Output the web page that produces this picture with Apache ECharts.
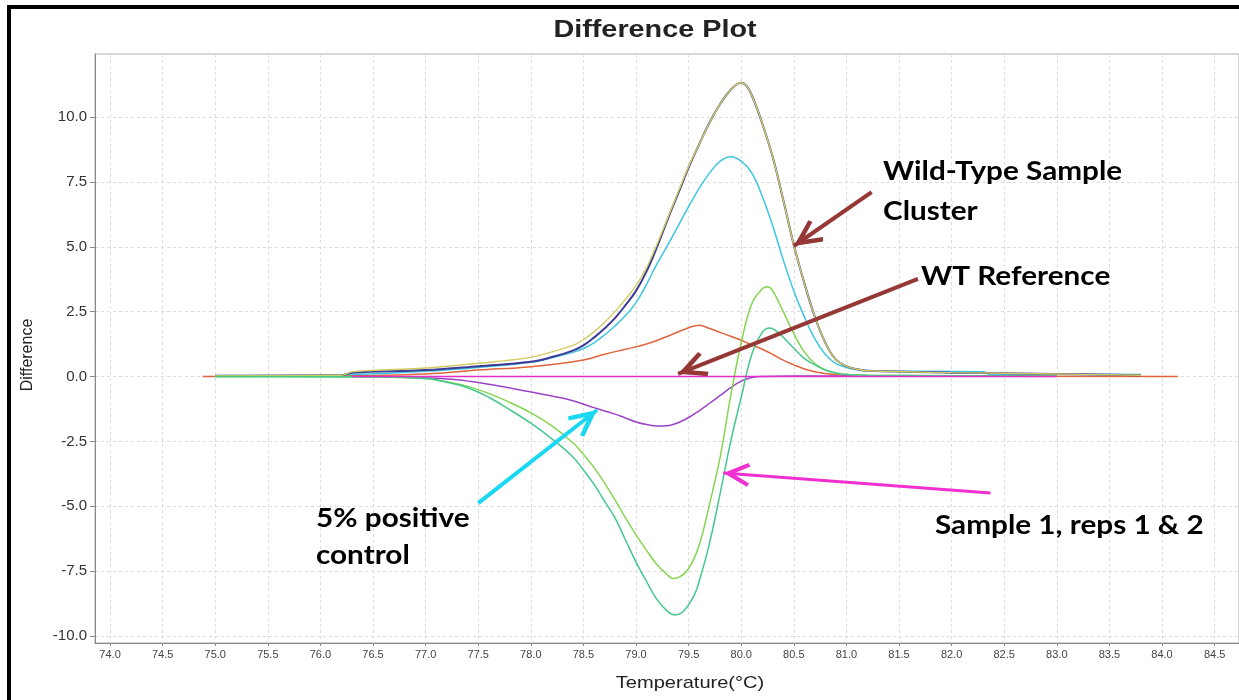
<!DOCTYPE html>
<html>
<head>
<meta charset="utf-8">
<script src="https://cdn.jsdelivr.net/npm/echarts@6/dist/echarts.min.js"></script>
<style>
html,body{margin:0;padding:0;background:#fff;}
#chart{width:1239px;height:700px;}
</style>
</head>
<body>
<div id="chart"></div>
<script>
// ---- tick labels ----
const xTicks = [74.0,74.5,75.0,75.5,76.0,76.5,77.0,77.5,78.0,78.5,79.0,79.5,80.0,80.5,81.0,81.5,82.0,82.5,83.0,83.5,84.0,84.5];
const yTicks = [-10.0,-7.5,-5.0,-2.5,0.0,2.5,5.0,7.5,10.0];

// ---- series data (temperature °C, difference) ----
const wtNavyX   = [75.0,76.2,76.3,77.0,77.5,78.0,78.2,78.4,78.5,78.6,78.7,78.8,78.9,79.0,79.1,79.2,79.3,79.4,79.5,79.6,79.7,79.8,79.9,80.0,80.05,80.1,80.2,80.3,80.4,80.5,80.6,80.7,80.8,80.9,81.0,81.1,81.2,82.0,83.0,83.8];
const wtNavyY   = [0.03,0.05,0.15,0.25,0.4,0.57,0.75,1.0,1.2,1.5,1.85,2.25,2.75,3.3,4.05,5.0,6.05,7.05,8.05,8.95,9.8,10.5,11.05,11.32,11.2,10.85,9.75,8.45,6.8,5.07,3.6,2.3,1.3,0.65,0.4,0.28,0.22,0.15,0.1,0.05];
const wtYellowX = [75.0,76.2,76.3,77.0,77.5,78.0,78.2,78.4,78.5,78.6,78.7,78.8,78.9,79.0,79.1,79.2,79.3,79.4,79.5,79.6,79.7,79.8,79.9,80.0,80.05,80.1,80.2,80.3,80.4,80.5,80.6,80.7,80.8,80.9,81.0,81.1,81.2,82.0,83.0,83.8];
const wtYellowY = [0.03,0.05,0.18,0.33,0.51,0.74,0.95,1.2,1.42,1.72,2.08,2.5,2.98,3.5,4.2,5.1,6.1,7.1,8.1,8.95,9.8,10.5,11.05,11.32,11.2,10.85,9.75,8.45,6.8,5.07,3.6,2.3,1.3,0.65,0.4,0.28,0.22,0.15,0.1,0.05];
const cyanX = [75.0,76.3,77.0,77.5,78.0,78.2,78.4,78.5,78.6,78.7,78.8,78.9,79.0,79.1,79.2,79.3,79.4,79.5,79.6,79.7,79.8,79.9,80.0,80.1,80.2,80.3,80.4,80.5,80.6,80.7,80.8,80.9,81.0,81.1,81.2,82.3,82.35,83.8];
const cyanY = [0.03,0.08,0.2,0.35,0.55,0.72,0.93,1.08,1.3,1.6,1.95,2.35,2.85,3.55,4.35,5.05,5.8,6.55,7.25,7.85,8.3,8.47,8.3,7.85,6.95,5.8,4.49,3.3,2.3,1.45,0.85,0.5,0.35,0.27,0.22,0.18,0.1,0.08];
const redX  = [74.88,76.0,77.0,77.5,78.0,78.5,78.7,78.9,79.1,79.3,79.5,79.6,79.7,79.8,79.9,80.0,80.1,80.2,80.3,80.4,80.5,80.6,80.7,80.8,80.9,81.1,81.4,84.15];
const redY  = [0.0,0.02,0.1,0.25,0.38,0.64,0.86,1.05,1.25,1.55,1.88,1.98,1.85,1.7,1.55,1.4,1.22,1.05,0.85,0.63,0.45,0.29,0.18,0.12,0.08,0.04,0.02,0.0];
const refX  = [76.3,83.0];
const refY  = [0,0];
const ctrlX = [76.35,77.0,77.3,77.6,77.9,78.2,78.4,78.6,78.8,78.9,79.0,79.1,79.2,79.3,79.4,79.5,79.6,79.7,79.8,79.9,80.0,80.1,80.2,80.5,83.0];
const ctrlY = [0,-0.05,-0.12,-0.3,-0.52,-0.75,-0.93,-1.2,-1.45,-1.6,-1.75,-1.85,-1.91,-1.9,-1.78,-1.58,-1.32,-1.03,-0.73,-0.43,-0.18,-0.04,0.0,0.02,0.02];
const rep1X = [75.0,76.5,77.0,77.2,77.4,77.6,77.8,78.0,78.2,78.4,78.5,78.6,78.7,78.8,78.9,79.0,79.1,79.2,79.3,79.35,79.4,79.5,79.6,79.7,79.8,79.9,80.0,80.1,80.2,80.25,80.3,80.4,80.5,80.6,80.7,80.8,80.9,81.0,81.2,82.0,83.0];
const rep1Y = [0,-0.02,-0.08,-0.2,-0.38,-0.65,-1.0,-1.4,-1.9,-2.55,-3.0,-3.5,-4.1,-4.75,-5.45,-6.1,-6.7,-7.25,-7.65,-7.78,-7.75,-7.4,-6.5,-4.9,-3.1,-0.75,1.3,2.8,3.38,3.46,3.3,2.5,1.65,0.95,0.5,0.25,0.13,0.08,0.05,0.03,0.02];
const rep2X = [75.0,76.5,77.0,77.2,77.4,77.6,77.8,78.0,78.2,78.4,78.5,78.6,78.7,78.8,78.9,79.0,79.1,79.2,79.3,79.37,79.45,79.55,79.6,79.7,79.8,79.9,80.0,80.1,80.2,80.27,80.35,80.45,80.6,80.7,80.8,80.9,81.0,81.2,82.0,83.0];
const rep2Y = [0,-0.02,-0.08,-0.22,-0.43,-0.8,-1.28,-1.8,-2.4,-3.1,-3.6,-4.15,-4.8,-5.45,-6.3,-7.15,-7.9,-8.6,-9.05,-9.19,-9.05,-8.45,-7.9,-6.4,-4.5,-2.5,-0.8,0.85,1.7,1.87,1.7,1.3,0.7,0.45,0.25,0.14,0.08,0.05,0.03,0.02];

// ---- annotation arrows (tail -> head, data coords) ----
const arrowWT   = [[81.24,7.11],[80.50,5.03]];
const arrowRef  = [[81.68,3.76],[79.40,0.10]];
const arrowCtrl = [[77.50,-4.88],[78.63,-1.29]];
const arrowRep  = [[82.37,-4.49],[79.83,-3.72]];

function pairs(xs, ys){ return xs.map((x,i)=>[x, ys[i]]); }

const chart = echarts.init(document.getElementById('chart'), null, {renderer:'canvas'});
// open V arrow-head; a tiny point above the tip balances the box so the tip sits on the line end
const chevron = 'path://M9,-19.8 L9.02,-19.8 L9,-19.78 Z M9,0 L18,18 L15.4,19.6 L9,7.2 L2.6,19.6 L0,18 Z';

function curve(name, xs, ys, color, width, z){
  return {name, type:'line', data:pairs(xs,ys), smooth:0.4, showSymbol:false, symbol:'none',
    lineStyle:{color, width}, z: z||2, animation:false};
}
function arrow(coords, color, width, size){
  return {type:'line', data:[], animation:false, z:10,
    markLine:{silent:true, animation:false, symbol:['none', chevron], symbolSize:size,
      lineStyle:{color, width, type:'solid', cap:'butt'}, label:{show:false},
      data:[[{coord:coords[0]},{coord:coords[1]}]]}};
}
const annFont = 'bold 27px Lato';

const option = {
  backgroundColor:'#ffffff',
  animation:false,
  grid:{left:95, top:54, right:0, bottom:57, show:true, borderColor:'#b0b0b0', borderWidth:1, backgroundColor:'transparent'},
  xAxis:{type:'value', min:73.857, max:84.732,
    axisLine:{onZero:false, lineStyle:{color:'#888', width:1}},
    axisTick:{show:true, length:3, lineStyle:{color:'#888'}, customValues:xTicks},
    axisLabel:{customValues:xTicks, formatter:v=>v.toFixed(1), fontSize:11, color:'#444', margin:6, fontFamily:'Liberation Sans Narrow, Liberation Sans, Arial'},
    splitLine:{show:true, lineStyle:{color:'#dcdcdc', type:[3,3], width:1}}},
  yAxis:{type:'value', min:-10.27, max:12.43,
    axisLine:{show:true, lineStyle:{color:'#888', width:1}},
    axisTick:{show:true, length:5, lineStyle:{color:'#888'}, customValues:yTicks},
    axisLabel:{customValues:yTicks, formatter:v=>v.toFixed(1), fontSize:15, color:'#333', margin:8, fontFamily:'Liberation Sans, Arial'},
    splitLine:{show:true, lineStyle:{color:'#dcdcdc', type:[3,3], width:1}}},
  graphic:[
    {type:'rect', shape:{x:7,y:5,width:1232,height:4}, style:{fill:'#000'}, z:100},
    {type:'rect', shape:{x:7,y:5,width:4,height:695}, style:{fill:'#000'}, z:100},
    {type:'text', x:655, y:30, scaleX:1.2, style:{text:'Difference Plot', font:'bold 24px "Liberation Sans", Arial', fill:'#222', align:'center', verticalAlign:'middle'}},
    {type:'text', x:690, y:683, scaleX:1.18, style:{text:'Temperature(°C)', font:'17px "Liberation Sans", Arial', fill:'#222', align:'center', verticalAlign:'middle'}},
    {type:'text', x:28, y:355, rotation:Math.PI/2, style:{text:'Difference', font:'16px "Liberation Sans", Arial', fill:'#222', align:'center', verticalAlign:'middle'}},
    {type:'text', x:883, y:151, scaleX:1.1, z:50, style:{text:'Wild-Type Sample\nCluster', font:annFont, lineHeight:40, fill:'#000', align:'left', verticalAlign:'top'}},
    {type:'text', x:921, y:276, scaleX:1.1, z:50, style:{text:'WT Reference', font:annFont, fill:'#000', align:'left', verticalAlign:'middle'}},
    {type:'text', x:316, y:500, scaleX:1.1, z:50, style:{text:'5% positive\ncontrol', font:annFont, lineHeight:37, fill:'#000', align:'left', verticalAlign:'top'}},
    {type:'text', x:935, y:525, scaleX:1.1, z:50, style:{text:'Sample 1, reps 1 & 2', font:annFont, fill:'#000', align:'left', verticalAlign:'middle'}}
  ],
  series:[
    curve('WT sample 3', redX, redY, '#e0643c', 1.5, 2),
    curve('WT sample 2', cyanX, cyanY, '#3cc6e0', 1.5, 3),
    curve('WT sample 1a', wtNavyX, wtNavyY, '#3c3c98', 2, 3),
    curve('WT sample 1b', wtYellowX, wtYellowY, '#d2cc62', 1.4, 4),
    curve('5% positive control', ctrlX, ctrlY, '#9a44c8', 1.5, 4),
    curve('Sample 1 rep 1', rep1X, rep1Y, '#84d650', 1.5, 4),
    curve('Sample 1 rep 2', rep2X, rep2Y, '#44c88c', 1.5, 4),
    curve('WT Reference', refX, refY, '#e030c8', 1.5, 5),
    arrow(arrowWT, '#953735', 4, [26,58]),
    arrow(arrowRef, '#953735', 4, [26,58]),
    arrow(arrowCtrl, '#1ad8f2', 4, [26,58]),
    arrow(arrowRep, '#f030d0', 3, [24,53])
  ]
};
chart.setOption(option);
</script>
</body>
</html>
